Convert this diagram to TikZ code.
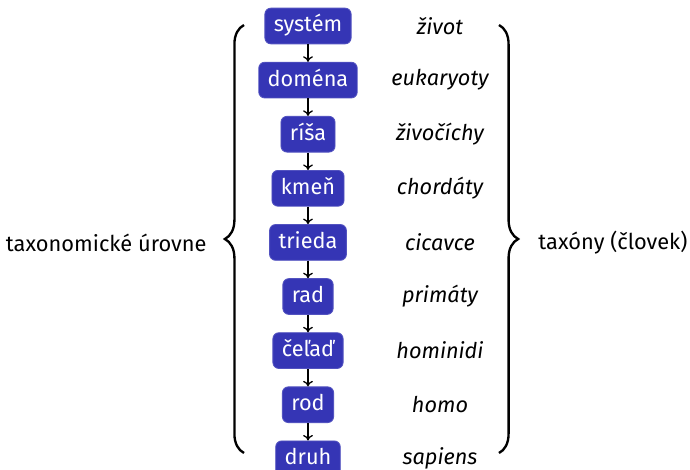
\documentclass[tikz,border=0pt]{standalone}
\usepackage{fontspec}
\setmainfont{Fira Sans}
\usetikzlibrary{decorations.pathreplacing,arrows.meta}
\definecolor{rankblue}{HTML}{3535B5}
\begin{document}
\begin{tikzpicture}[x=0.47pt,y=-0.47pt,
  rank/.style={fill=rankblue,draw=rankblue!85!white,line width=0.4pt,text=white,
    rounded corners=2.8pt,inner xsep=4.2pt,inner ysep=3.6pt,
    text height=7.6pt,text depth=2pt,font=\fontsize{10.2pt}{12pt}\selectfont},
  taxon/.style={font=\fontsize{10.2pt}{12pt}\selectfont\itshape},
  label/.style={font=\fontsize{10.25pt}{12pt}\selectfont,inner sep=0pt},
  link/.style={-{To[length=2.6pt,width=4.6pt]},line width=0.6pt},
  bracket/.style={decorate,decoration={brace,amplitude=9pt},line width=1.1pt}]
\useasboundingbox (0,0) rectangle (690,469);
% taxonomic ranks
\foreach \name/\txt/\taxon [count=\i from 0] in {
    sys/systém/život, dom/doména/eukaryoty, ris/ríša/živočíchy,
    kme/kmeň/chordáty, tri/trieda/cicavce, rad/rad/primáty,
    cel/čeľaď/hominidi, rod/rod/homo, dru/druh/sapiens}{
  \node[rank] (\name) at (308,{26+54.1*\i}) {\txt};
  \node[taxon] (\name-t) at (440,{26+54.1*\i}) {\taxon};
}
\foreach \a/\b in {sys/dom,dom/ris,ris/kme,kme/tri,tri/rad,rad/cel,cel/rod,rod/dru}
  \draw[link] (\a) -- (\b);
% braces and their labels
\coordinate (lb) at (244,453);
\coordinate (lt) at (244,25);
\coordinate (rt) at (499,25);
\coordinate (rb) at (499,453);
\draw[bracket] (lb) -- (lt);
\draw[bracket] (rt) -- (rb);
\node[label,anchor=east] (lev) at (207,243) {taxonomické úrovne};
\node[label,anchor=west] (tax) at (538,243) {taxóny (človek)};
\end{tikzpicture}
\end{document}
